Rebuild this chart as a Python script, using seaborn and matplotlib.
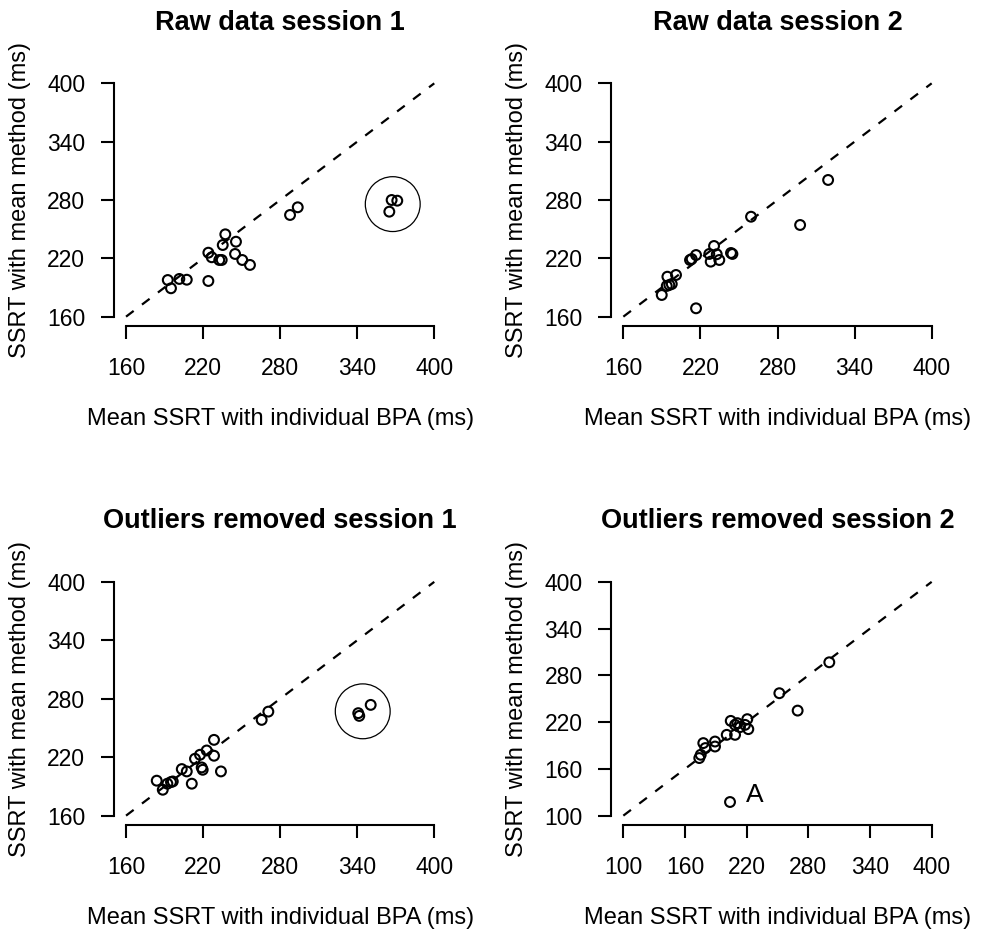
import matplotlib
matplotlib.use("Agg")
import matplotlib.pyplot as plt
import seaborn as sns
import numpy as np
import pandas as pd
from matplotlib.transforms import ScaledTranslation

# ---------------- data ----------------
titles = ["Raw data session 1", "Raw data session 2",
          "Outliers removed session 1", "Outliers removed session 2"]
x_label = "Mean SSRT with individual BPA (ms)"
y_label = "SSRT with mean method (ms)"

ticks_160 = [160, 220, 280, 340, 400]
ticks_100 = [100, 160, 220, 280, 340, 400]

# Raw data session 1
s1_raw_bpa = [192.5, 195.0, 201.5, 207.3, 224.1, 224.1, 226.7, 232.6, 234.5, 235.3,
              237.3, 245.6, 244.9, 250.5, 256.5, 287.7, 293.7]
s1_raw_mean = [197.7, 189.2, 198.8, 198.0, 196.7, 225.8, 221.1, 218.3, 218.3, 233.7,
               244.7, 237.1, 224.5, 218.3, 213.2, 264.6, 272.5]
s1_raw_out_bpa = [365.0, 366.8, 371.2]
s1_raw_out_mean = [268.0, 280.0, 279.3]

# Raw data session 2
s2_raw_bpa = [189.9, 193.8, 195.8, 197.7, 194.3, 201.0, 211.9, 213.2, 216.6, 216.6,
              226.9, 230.6, 232.7, 228.0, 234.7, 244.9, 243.8, 259.4, 297.6, 319.4]
s2_raw_mean = [182.3, 191.6, 192.6, 193.6, 201.1, 202.9, 218.3, 219.3, 223.4, 168.6,
               224.5, 232.7, 224.2, 216.6, 218.3, 224.5, 225.5, 262.8, 254.3, 300.6]

# Outliers removed session 1
s1_clean_bpa = [183.9, 188.6, 192.2, 195.0, 196.4, 203.4, 207.3, 211.2, 213.7, 217.6,
                218.9, 219.7, 222.8, 228.5, 228.5, 233.9, 265.6, 270.8]
s1_clean_mean = [195.9, 186.6, 192.8, 194.5, 195.1, 207.8, 205.4, 192.8, 218.4, 222.5,
                 209.5, 207.1, 226.9, 221.5, 237.8, 205.4, 258.3, 266.8]
s1_clean_out_bpa = [340.8, 341.6, 350.5]
s1_clean_out_mean = [265.2, 262.4, 273.7]

# Outliers removed session 2
s2_clean_bpa = [173.9, 175.3, 177.8, 179.8, 189.2, 189.2, 200.6, 204.5, 208.7, 208.7,
                210.9, 213.5, 218.4, 220.6, 221.6, 251.8, 269.6, 300.4, 203.8]
s2_clean_mean = [173.9, 178.1, 193.1, 186.7, 195.1, 188.7, 203.7, 221.6, 216.5, 203.7,
                 218.7, 213.6, 216.5, 223.8, 211.0, 257.1, 234.8, 296.8, 117.5]
s2_clean_label_idx = 18
s2_clean_label = "A"

# ---------------- style ----------------
sns.set_style("ticks")
plt.rcParams['font.family'] = ['Liberation Sans', 'DejaVu Sans']
plt.rcParams['text.color'] = 'black'
plt.rcParams['axes.labelcolor'] = 'black'
plt.rcParams['xtick.color'] = 'black'
plt.rcParams['ytick.color'] = 'black'
plt.rcParams['axes.edgecolor'] = 'black'

W, H = 981, 934
fig = plt.figure(figsize=(W / 100, H / 100), dpi=100)


def add_axes(left, top, right, bottom):
    return fig.add_axes([left / W, 1 - bottom / H, (right - left) / W, (bottom - top) / H])


def panel(ax, title, x, y, ticks, out_x=None, out_y=None, label_idx=None, label=None):
    lo, hi = ticks[0], ticks[-1]
    ext = 0.04 * (hi - lo)
    ax.set_xlim(lo - ext, hi + ext)
    ax.set_ylim(lo - ext, hi + ext)
    ax.plot([lo, hi], [lo, hi], color="black", lw=1.6, ls=(0, (4.3, 4.7)), zorder=1)

    xs = list(x) + (list(out_x) if out_x else [])
    ys = list(y) + (list(out_y) if out_y else [])
    df = pd.DataFrame({"bpa": xs, "mean": ys})
    sns.scatterplot(data=df, x="bpa", y="mean", ax=ax, marker="o", s=50,
                    facecolors="none", edgecolors="black", linewidths=1.5, zorder=3)

    if out_x:
        cx, cy = np.mean(out_x), np.mean(out_y)
        ax.scatter([cx], [cy], s=1560, facecolors="none", edgecolors="black",
                   linewidths=0.9, zorder=2)

    if label_idx is not None:
        ax.annotate(label, (x[label_idx], y[label_idx]), xytext=(11.5, 0),
                    textcoords="offset points", ha="left", va="baseline", fontsize=19,
                    color="black")

    ax.set_xticks(ticks)
    ax.set_yticks(ticks)
    ax.set_xticklabels([str(t) for t in ticks])
    ax.set_yticklabels([str(t) for t in ticks])
    for side in ["top", "right"]:
        ax.spines[side].set_visible(False)
    for side in ["left", "bottom"]:
        ax.spines[side].set_linewidth(1.5)
        ax.spines[side].set_color("black")
    ax.spines["bottom"].set_bounds(lo, hi)
    ax.spines["left"].set_bounds(lo, hi)
    ax.tick_params(axis="both", length=9.6, width=1.5, labelsize=16.5,
                   colors="black", labelcolor="black")
    ax.tick_params(axis="x", pad=12.5)
    ax.tick_params(axis="y", pad=10.8)
    ax.set_xlabel("")
    ax.set_ylabel("")
    ax.set_title(title, fontsize=19.5, fontweight="bold", pad=31.7, color="black")

    ax.text(0.5, 0, x_label, fontsize=17, ha="center", va="baseline", color="black",
            transform=ax.transAxes + ScaledTranslation(0, -0.99, fig.dpi_scale_trans))
    ax.text(0, 0.5, y_label, fontsize=17, ha="center", va="center", rotation=90,
            color="black",
            transform=ax.transAxes + ScaledTranslation(-0.94, 0, fig.dpi_scale_trans))
    ax.set_facecolor("white")


ax1 = add_axes(113.7, 74, 446.6, 326)
ax2 = add_axes(611.0, 74, 944.0, 326)
ax3 = add_axes(113.7, 572.5, 446.6, 825)
ax4 = add_axes(611.0, 572.5, 944.0, 825)

panel(ax1, titles[0], s1_raw_bpa, s1_raw_mean, ticks_160, s1_raw_out_bpa, s1_raw_out_mean)
panel(ax2, titles[1], s2_raw_bpa, s2_raw_mean, ticks_160)
panel(ax3, titles[2], s1_clean_bpa, s1_clean_mean, ticks_160, s1_clean_out_bpa, s1_clean_out_mean)
panel(ax4, titles[3], s2_clean_bpa, s2_clean_mean, ticks_100,
      label_idx=s2_clean_label_idx, label=s2_clean_label)

fig.savefig("out.png", dpi=100, facecolor="white")
